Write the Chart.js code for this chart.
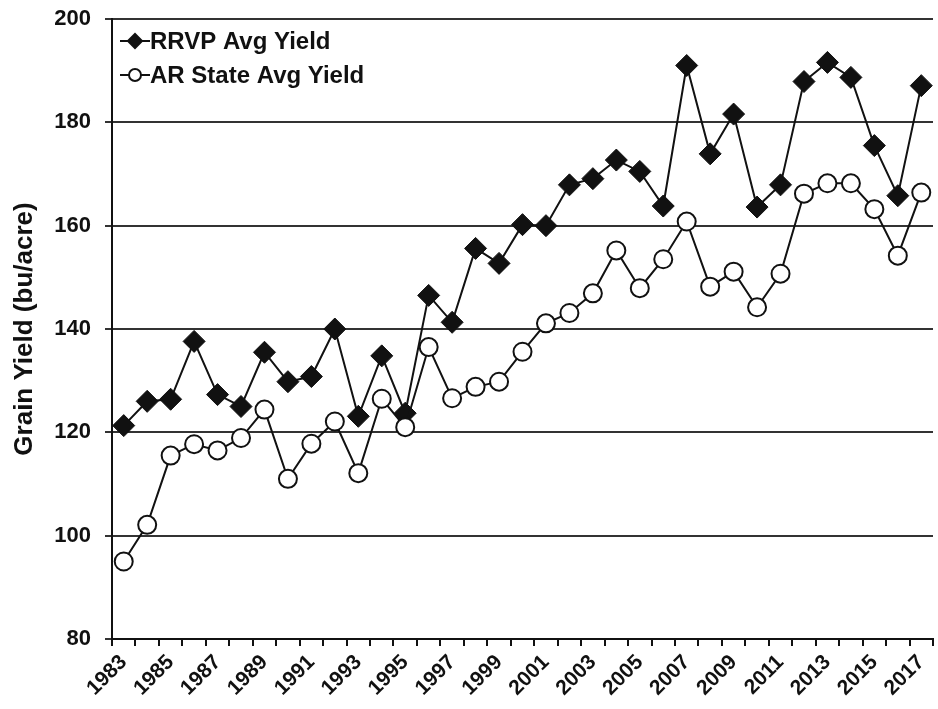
<!DOCTYPE html>
<html>
<head>
<meta charset="utf-8">
<script src="https://cdn.jsdelivr.net/npm/chart.js@4"></script>
<style>
  html, body { margin: 0; padding: 0; background: #fff; }
  #wrap { width: 938px; height: 709px; }
</style>
</head>
<body>
<div id="wrap"><canvas id="chart" width="938" height="709"></canvas></div>
<script>
const years = ['1983', '1984', '1985', '1986', '1987', '1988', '1989', '1990', '1991', '1992',
  '1993', '1994', '1995', '1996', '1997', '1998', '1999', '2000', '2001', '2002',
  '2003', '2004', '2005', '2006', '2007', '2008', '2009', '2010', '2011', '2012',
  '2013', '2014', '2015', '2016', '2017'];

const rrvpYield = [121.3, 126.0, 126.4, 137.6, 127.3, 125.0, 135.5, 129.8, 130.8, 140.0,
  123.1, 134.8, 123.7, 146.5, 141.3, 155.6, 152.7, 160.2, 160.0, 167.9,
  169.1, 172.7, 170.5, 163.8, 191.0, 173.9, 181.6, 163.6, 167.9, 187.9,
  191.6, 188.7, 175.5, 165.8, 187.1];

const stateYield = [95.0, 102.1, 115.5, 117.7, 116.5, 118.9, 124.4, 111.0, 117.8, 122.1,
  112.1, 126.5, 121.0, 136.5, 126.6, 128.8, 129.8, 135.6, 141.1, 143.1,
  146.9, 155.2, 147.9, 153.5, 160.8, 148.2, 151.1, 144.2, 150.7, 166.2,
  168.2, 168.2, 163.2, 154.2, 166.4];

const yTicks = { min: 80, max: 200, step: 20 };

const FONT = "'Liberation Sans', Arial, Helvetica, sans-serif";

// legend drawn inside the plot area: short line with the marker on it, then the label
const insideLegend = {
  id: 'insideLegend',
  afterDatasetsDraw(chart) {
    const { ctx, chartArea } = chart;
    const x0 = chartArea.left + 8;
    ctx.save();
    chart.data.datasets.forEach((ds, i) => {
      const y = chartArea.top + 22 + i * 34;
      ctx.strokeStyle = '#111';
      ctx.lineWidth = 2;
      ctx.beginPath();
      ctx.moveTo(x0, y);
      ctx.lineTo(x0 + 30, y);
      ctx.stroke();
      ctx.fillStyle = ds.pointBackgroundColor;
      ctx.beginPath();
      if (ds.pointStyle === 'circle') {
        ctx.arc(x0 + 15, y, 6, 0, Math.PI * 2);
      } else {
        ctx.moveTo(x0 + 15 - 7, y);
        ctx.lineTo(x0 + 15, y - 7);
        ctx.lineTo(x0 + 15 + 7, y);
        ctx.lineTo(x0 + 15, y + 7);
        ctx.closePath();
      }
      ctx.fill();
      ctx.stroke();
      ctx.fillStyle = '#111';
      ctx.font = "bold 24px " + FONT;
      ctx.textBaseline = 'middle';
      ctx.textAlign = 'left';
      ctx.fillText(ds.label, x0 + 30, y + 1);
    });
    ctx.restore();
  },
};

new Chart(document.getElementById('chart'), {
  type: 'line',
  data: {
    labels: years,
    datasets: [
      {
        label: 'RRVP Avg Yield',
        data: rrvpYield,
        borderColor: '#111',
        borderWidth: 2,
        pointStyle: 'rectRot',
        pointRadius: 11,
        pointBackgroundColor: '#111',
        pointBorderColor: '#111',
        pointBorderWidth: 1,
        tension: 0,
        order: 2,
      },
      {
        label: 'AR State Avg Yield',
        data: stateYield,
        borderColor: '#111',
        borderWidth: 2,
        pointStyle: 'circle',
        pointRadius: 9,
        pointBackgroundColor: '#fff',
        pointBorderColor: '#111',
        pointBorderWidth: 2,
        tension: 0,
        order: 1,
      },
    ],
  },
  options: {
    responsive: false,
    animation: false,
    layout: { autoPadding: false, padding: { left: 0, right: 5, top: 19, bottom: 0 } },
    plugins: {
      legend: { display: false },
      tooltip: { enabled: false },
    },
    scales: {
      x: {
        offset: true,
        grid: {
          offset: true,
          drawOnChartArea: false,
          drawTicks: true,
          tickLength: 7,
          color: '#111',
          lineWidth: 2,
        },
        border: { color: '#111', width: 2 },
        ticks: {
          autoSkip: false,
          maxRotation: 45,
          minRotation: 45,
          padding: 4,
          color: '#111',
          font: { family: FONT, size: 21, weight: 'bold' },
          callback: (value, index) => (index % 2 === 0 ? years[index] : ''),
        },
        afterFit: (scale) => {
          scale.height = 70;
          scale.paddingLeft = 0;
          scale.paddingRight = 0;
        },
      },
      y: {
        min: yTicks.min,
        max: yTicks.max,
        grid: {
          color: '#333',
          lineWidth: 2,
          drawTicks: true,
          tickLength: 7,
        },
        border: { color: '#111', width: 2 },
        ticks: {
          stepSize: yTicks.step,
          padding: 14,
          color: '#111',
          font: { family: FONT, size: 22, weight: 'bold' },
        },
        title: {
          display: true,
          text: 'Grain Yield (bu/acre)',
          color: '#111',
          padding: { top: 9, bottom: 0 },
          font: { family: FONT, size: 26, weight: 'bold' },
        },
        afterFit: (scale) => {
          scale.width = 112;
          scale.paddingTop = 0;
          scale.paddingBottom = 0;
        },
      },
    },
  },
  plugins: [insideLegend],
});
</script>
</body>
</html>
